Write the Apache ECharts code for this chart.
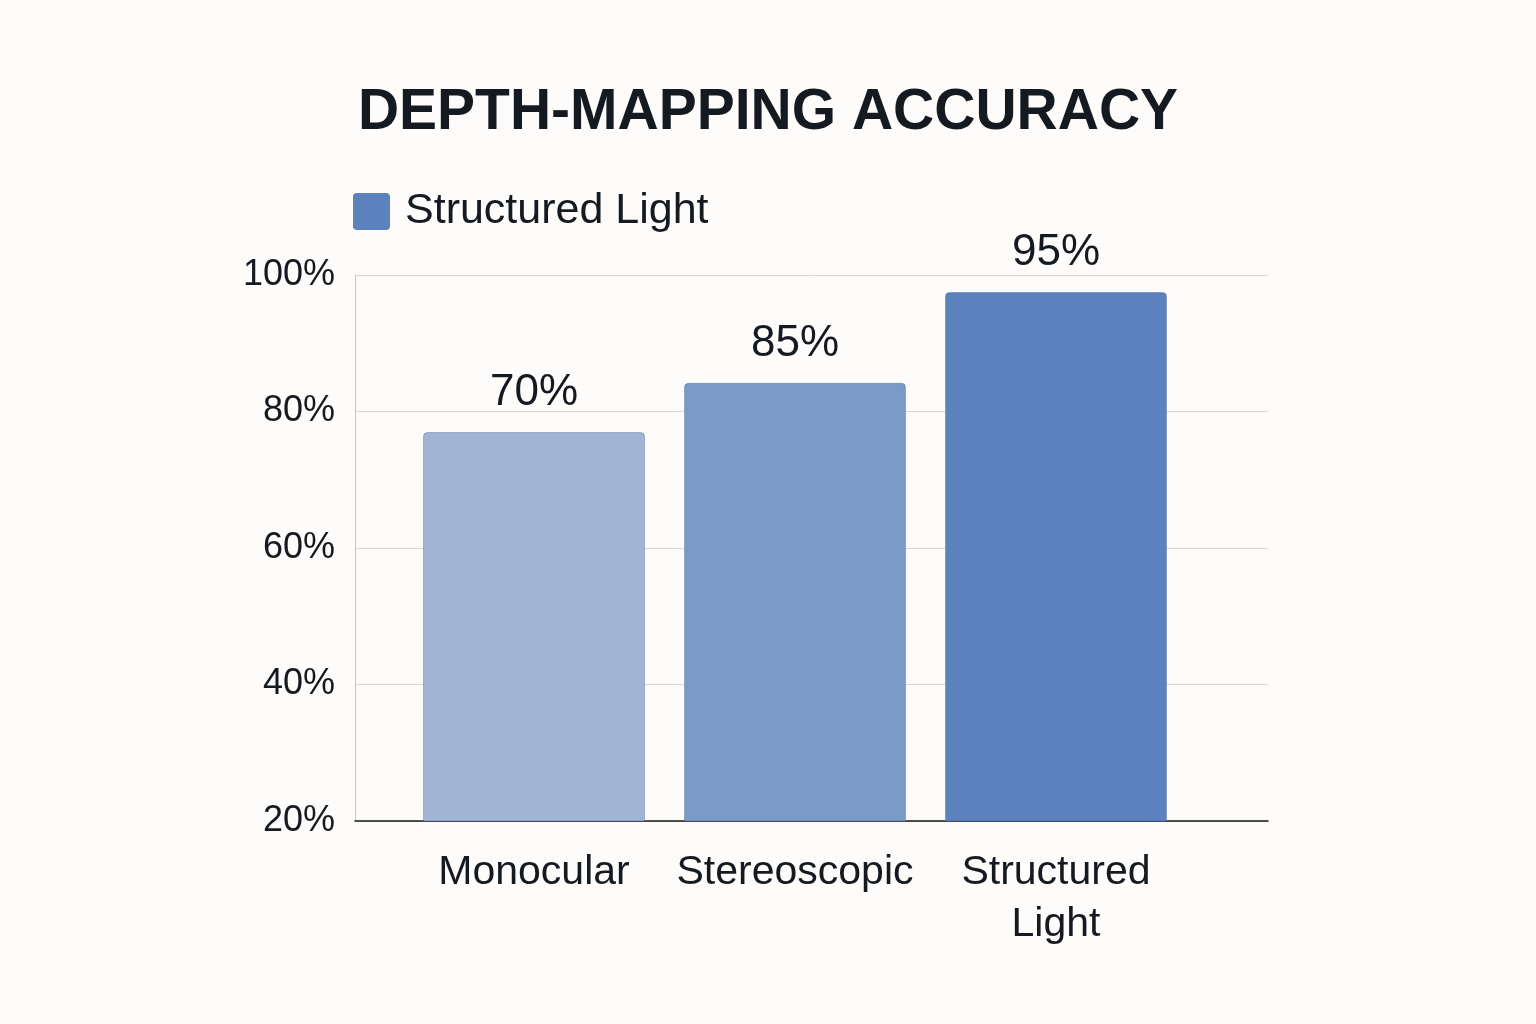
<!DOCTYPE html>
<html><head><meta charset="utf-8">
<script src="https://cdn.jsdelivr.net/npm/echarts@6/dist/echarts.min.js"></script>
<style>html,body{margin:0;padding:0;background:#fdfcfa;}#c{width:1536px;height:1024px;}</style>
</head><body><div id="c"></div>
<script>
const categories = ['Monocular', 'Stereoscopic', 'Structured\nLight'];
const values = [77, 84.2, 97.5];
const valueLabels = ['70%', '85%', '95%'];
const barColors = ['#a0b4d6', '#7a9ac8', '#5b82be'];
const yTicks = [20, 40, 60, 80, 100];
const seriesName = 'Structured Light';
const FONT = 'Liberation Sans';

const chart = echarts.init(document.getElementById('c'));
chart.setOption({
  backgroundColor: '#fdfcfa',
  textStyle: { fontFamily: FONT },
  title: {
    text: 'DEPTH-MAPPING ACCURACY', left: 'center', top: 80,
    textStyle: { fontFamily: FONT, fontWeight: 'bold', fontSize: 57, color: '#151a21' }
  },
  legend: {
    left: 348, top: 185, itemWidth: 37, itemHeight: 37, itemGap: 10,
    icon: 'path://M4,0 L33,0 Q37,0 37,4 L37,33 Q37,37 33,37 L4,37 Q0,37 0,33 L0,4 Q0,0 4,0 Z',
    textStyle: { fontSize: 43, color: '#151a21', fontFamily: FONT, padding: [0, 0, 0, 10] },
    data: [seriesName]
  },
  grid: [
    { left: 403.5, right: 349.5, top: 275, bottom: 203 },
    { left: 355, right: 268, top: 275, bottom: 203 }
  ],
  xAxis: [
    { type: 'category', gridIndex: 0, data: categories,
      axisLine: { show: false }, axisTick: { show: false },
      axisLabel: { fontSize: 41, color: '#151a21', margin: 26, lineHeight: 52, fontFamily: FONT, interval: 0 } },
    { type: 'category', gridIndex: 1, data: categories,
      axisLine: { show: true, lineStyle: { color: '#1a1a1a', width: 1.5 } },
      axisTick: { show: false }, axisLabel: { show: false } }
  ],
  yAxis: [
    { type: 'value', gridIndex: 0, min: 20, max: 100, interval: 20, show: false, splitLine: { show: false } },
    { type: 'value', gridIndex: 1, min: 20, max: 100, interval: 20,
      axisLine: { show: true, lineStyle: { color: '#c8c8c8', width: 1 } },
      axisTick: { show: false },
      splitLine: { lineStyle: { color: '#d6d6d6', width: 1 } },
      axisLabel: { fontSize: 36, color: '#151a21', margin: 20, fontFamily: FONT, padding: [10, 0, 0, 0],
        formatter: v => yTicks.includes(v) ? v + '%' : '' } }
  ],
  series: [{
    name: seriesName, type: 'bar', xAxisIndex: 0, yAxisIndex: 0,
    barWidth: 222,
    itemStyle: { color: barColors[2] },
    data: values.map((v, i) => ({
      value: v,
      itemStyle: { color: barColors[i], borderRadius: [4, 4, 0, 0], borderColor: 'rgba(60,90,150,0.35)', borderWidth: 1 }
    })),
    label: { show: true, position: 'top', distance: 17, fontSize: 44, color: '#151a21', fontFamily: FONT,
      formatter: p => valueLabels[p.dataIndex] }
  }]
});
</script></body></html>
